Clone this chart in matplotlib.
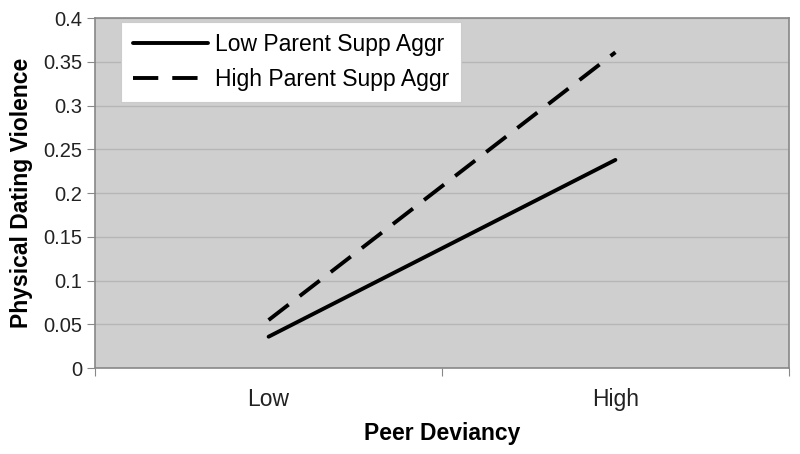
import matplotlib.pyplot as plt
import numpy as np

plt.rcParams['font.family'] = ['Liberation Sans', 'DejaVu Sans']

categories = ['Low', 'High']
low_parent = [0.036, 0.238]
high_parent = [0.055, 0.361]
series_names = ['Low Parent Supp Aggr', 'High Parent Supp Aggr']

fig = plt.figure(figsize=(8, 4.54), dpi=100)
ax = fig.add_axes([0.119, 0.189, 0.867, 0.771])
ax.set_facecolor('#cfcfcf')

x = np.arange(len(categories))
ax.plot(x, low_parent, color='black', lw=2.8, solid_capstyle='round')
ax.plot(x, high_parent, color='black', lw=2.8, dashes=(6.5, 3.6), dash_capstyle='butt')

ax.set_xlim(-0.5, 1.5)
ax.set_ylim(0, 0.4)
yt = np.arange(0, 0.41, 0.05)
ax.set_yticks(yt)
ax.set_yticklabels(['0', '0.05', '0.1', '0.15', '0.2', '0.25', '0.3', '0.35', '0.4'])
ax.yaxis.grid(True, color='#b6b6b6', lw=1)
ax.set_axisbelow(True)

ax.set_xticks([-0.5, 0.5, 1.5])
ax.set_xticklabels([])
ax.set_xticks(x, minor=True)
ax.set_xticklabels(categories, minor=True)
ax.tick_params(axis='x', which='minor', length=0, pad=14, labelsize=16.5, labelcolor='#222222')
ax.tick_params(axis='x', which='major', length=6, color='#888888')
ax.tick_params(axis='y', length=6, color='#888888', labelsize=14.5, labelcolor='#222222')

for s in ax.spines.values():
    s.set_color('#888888')
    s.set_linewidth(1.2)

ax.set_xlabel('Peer Deviancy', fontsize=16.5, fontweight='bold', labelpad=8)
ax.set_ylabel('Physical Dating Violence', fontsize=16.5, fontweight='bold', labelpad=7)

leg = ax.legend(series_names, loc='upper left', bbox_to_anchor=(0.0375, 0.989),
                fontsize=16.5, frameon=True, fancybox=False, framealpha=1,
                edgecolor='#cccccc', handlelength=3.3, handletextpad=0.3,
                borderpad=0.5, labelspacing=0.5, borderaxespad=0)
leg.get_frame().set_linewidth(0.8)

fig.savefig('out.png', dpi=100, facecolor='white')
